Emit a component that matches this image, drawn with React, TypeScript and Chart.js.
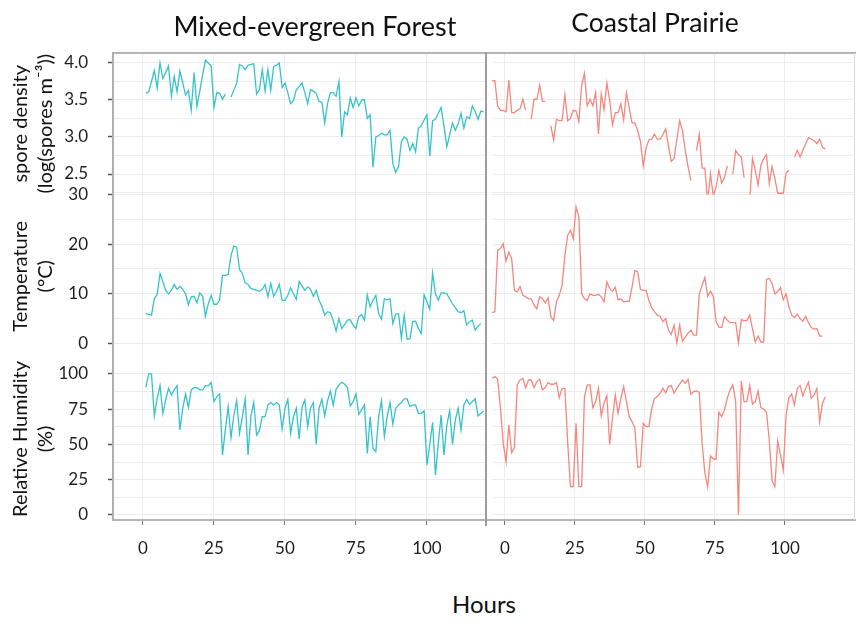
import React, { useEffect, useRef } from 'react';
import { Chart, registerables } from 'chart.js';

Chart.register(...registerables);

// ---------- data ----------
const forestStartHour = 1;
const prairieStartHour = -4.6;

const forestSpore = [
  3.59, 3.61, 3.75, 3.90, 3.66, 4.00, 3.79, 3.87, 3.96, 3.55,
  3.82, 3.61, 3.89, 3.73, 3.57, 3.63, 3.36, 3.87, 3.41, 3.62,
  3.84, 4.04, 4.00, 3.96, 3.40, 3.60, 3.59, 3.51, 3.58, null,
  3.54, 3.63, 3.73, 3.98, 3.96, 3.91, 3.97, 3.98, 3.99, 3.58,
  3.64, 3.91, 3.62, 3.91, 3.63, 3.95, 3.97, 4.00, 3.67, 3.73,
  3.60, 3.45, 3.49, 3.64, 3.68, 3.73, 3.60, 3.45, 3.64, 3.62,
  3.59, 3.48, 3.47, 3.19, 3.45, 3.60, 3.60, 3.55, 3.75, 3.00,
  3.34, 3.30, 3.53, 3.40, 3.53, 3.42, 3.50, 3.50, 3.25, 3.30,
  2.59, 3.00, 3.02, 3.05, 3.03, 3.03, 3.09, 2.64, 2.52, 2.60,
  2.94, 3.00, 2.97, 2.82, 2.91, 2.80, 3.12, 3.15, 3.23, 3.30,
  2.74, 3.22, 3.24, 3.32, 3.40, 3.15, 2.87, 3.03, 3.19, 3.09,
  3.18, 3.32, 3.12, 3.27, 3.25, 3.42, 3.34, 3.24, 3.35, 3.34,
];

const prairieSpore = [
  3.76, 3.76, 3.42, 3.36, 3.36, 3.34, 3.77, 3.33, 3.33, 3.36,
  3.38, 3.51, 3.36, null, 3.24, 3.51, 3.51, 3.70, 3.48, 3.48,
  null, 3.15, 2.96, 3.24, 3.22, 3.22, 3.57, 3.22, 3.25, 3.36,
  3.35, 3.21, 3.70, 3.86, 3.42, 3.51, 3.42, 3.60, 3.04, 3.58,
  3.37, 3.73, 3.50, 3.16, 3.33, 3.33, 3.45, 3.23, 3.60, 3.39,
  3.19, 3.19, 3.09, 2.94, 2.61, 2.85, 2.96, 2.97, 3.04, 2.97,
  2.97, 3.03, 3.11, 2.88, 2.67, 2.71, 2.96, 3.22, 3.09, 2.82,
  2.60, 2.41, null, 2.82, 3.04, 2.58, 2.58, 2.13, 2.50, 2.20,
  2.32, 2.55, 2.38, 2.45, 2.61, null, 2.50, 2.82, 2.76, 2.73,
  2.45, null, 2.13, 2.71, 2.55, 2.35, 2.62, 2.71, 2.76, 2.37,
  2.60, 2.44, 2.24, 2.24, 2.24, 2.51, 2.55, null, 2.73, 2.82,
  2.73, 2.82, 2.91, 2.99, 2.97, 2.95, 2.91, 2.97, 2.86, 2.84,
];

const forestTemp = [
  6.0, 5.85, 5.7, 9.0, 9.9, 14.1, 12.4, 10.7, 10.0, 10.7,
  11.9, 10.9, 11.5, 10.9, 10.0, 7.8, 9.4, 9.5, 8.2, 10.2,
  9.5, 5.5, 8.0, 9.7, 7.9, 7.9, 8.7, 13.7, 13.7, 13.9,
  17.7, 19.6, 19.4, 14.9, 14.1, 12.2, 11.9, 11.1, 10.9, 10.7,
  10.5, 10.9, 11.9, 9.4, 12.1, 9.5, 10.5, 11.9, 8.7, 8.7,
  9.7, 11.2, 10.0, 8.9, 12.5, 11.6, 10.7, 11.4, 10.9, 9.5,
  10.7, 8.7, 7.5, 5.7, 6.4, 6.2, 4.6, 2.5, 5.0, 3.0,
  3.8, 4.7, 4.8, 3.7, 3.0, 5.4, 5.8, 4.7, 9.8, 7.4,
  8.7, 9.7, 6.0, 4.9, 9.0, 8.8, 9.0, 4.0, 5.9, 6.0,
  1.1, 5.7, 0.9, 0.9, 4.4, 4.5, 3.0, 2.0, 9.8, 8.4,
  6.9, 14.2, 10.0, 8.7, 10.2, 10.2, 10.0, 9.0, 8.0, 7.2,
  6.4, 6.2, 6.6, 3.7, 4.4, 4.7, 2.7, 3.5, 4.0, null,
];

const prairieTemp = [
  6.2, 6.4, 18.8, 19.1, 20.1, 16.6, 18.4, 17.1, 10.7, 10.4,
  11.5, 9.7, 9.4, 9.0, 9.0, 7.7, 7.0, 9.4, 9.0, 8.2,
  9.2, 5.4, 4.6, 8.4, 9.7, 11.7, 17.7, 21.8, 22.8, 21.1,
  27.5, 25.5, 10.0, 9.0, 8.7, 10.0, 9.7, 9.7, 9.9, 9.4,
  8.4, 12.4, 11.1, 10.5, 11.3, 8.8, 9.0, 8.4, 8.5, 8.5,
  11.4, 14.7, 14.4, 10.9, 10.7, 10.7, 8.7, 7.2, 6.4, 5.7,
  5.5, 4.4, 5.0, 2.7, 1.8, 3.7, 0.1, 3.7, 0.5, 1.3,
  2.1, 2.7, 1.7, 1.7, 10.0, 11.7, 13.3, 9.5, 10.5, 9.5,
  4.4, 3.3, 3.2, 5.4, 4.7, 4.2, 4.2, 4.2, 0.1, 4.8,
  4.6, 4.6, 5.7, 3.0, 0.3, 1.5, 0.3, 0.3, 12.9, 13.1,
  12.1, 10.0, 10.4, 11.2, 8.8, 10.0, 7.4, 5.7, 5.2, 5.9,
  5.0, 4.5, 5.5, 4.2, 3.2, 2.9, 3.0, 1.5, 1.5, null,
];

const forestHumidity = [
  90.5, 100, 100, 70.2, 82.7, 91.7, 72.1, 81.6, 89.8, 85.1,
  88.7, 91.7, 60.3, 75.7, 85.6, 76.4, 88.7, 90.3, 90.3, 88.7,
  88.7, 91.7, 91.7, 93.9, 80.4, 83.9, 85.8, 42.6, 60.3, 76.8,
  54.8, 70.9, 81.1, 57.9, 69.7, 82.3, 42.6, 69.7, 79.9, 56.7,
  59.8, 69.7, 69.7, 78.0, 79.7, 78.0, 79.7, 78.0, 61.0, 75.7,
  82.0, 57.9, 69.7, 75.7, 53.9, 76.4, 81.6, 62.6, 75.7, 79.7,
  50.1, 75.7, 82.0, 70.2, 80.9, 87.9, 78.0, 89.1, 92.2, 94.1,
  92.7, 90.3, 77.3, 80.4, 85.8, 71.4, 74.5, 78.0, 43.7, 69.7,
  47.3, 44.9, 69.7, 81.1, 55.6, 69.7, 79.7, 64.3, 75.7, 78.0,
  79.7, 82.3, 82.3, 76.8, 78.0, 78.0, 72.1, 72.1, 73.8, 35.5,
  50.1, 65.7, 28.4, 50.8, 70.9, 42.6, 63.8, 74.0, 50.1, 67.4,
  75.7, 60.3, 78.0, 82.0, 78.5, 80.4, 82.3, 70.2, 72.1, 73.8,
];

const prairieHumidity = [
  96.9, 98.1, 96.5, 75.7, 50.8, 37.8, 63.8, 44.2, 47.8, 92.2,
  95.7, 96.9, 90.3, 95.7, 95.7, 90.3, 94.6, 96.2, 88.7, 90.3,
  93.9, 92.7, 92.7, 93.9, 83.2, 89.8, 89.8, 52.0, 20.1, 20.1,
  65.0, 20.1, 20.1, 83.9, 92.2, 92.2, 76.1, 80.4, 89.8, 70.2,
  79.2, 84.6, 50.1, 68.6, 85.1, 72.1, 82.7, 91.0, 80.4, 69.7,
  66.2, 61.5, 33.8, 34.3, 65.0, 62.6, 62.6, 75.2, 82.7, 83.9,
  86.3, 89.8, 86.8, 91.0, 91.7, 86.3, 89.8, 92.7, 95.7, 93.4,
  96.2, 85.6, 87.5, 87.9, 87.0, 51.5, 29.6, 20.1, 41.8, 39.7,
  39.7, 72.8, 69.7, 74.5, 82.7, 88.7, 92.2, 80.4, 0.0, 95.0,
  80.4, 80.4, 91.7, 78.5, 80.4, 87.9, 76.1, 75.2, 72.8, 53.2,
  24.1, 20.1, 52.5, 42.6, 31.9, 70.9, 83.2, 85.6, 78.0, 89.8,
  91.7, 84.4, 89.8, 94.1, 82.7, 85.1, 89.8, 66.2, 79.2, 83.9,
];

// ---------- axes ----------
const xTickValues = [0, 25, 50, 75, 100];
const xTickLabels = ['0', '25', '50', '75', '100'];

const sporeTickValues = [2.5, 3, 3.5, 4];
const sporeTickLabels = ['2.5', '3.0', '3.5', '4.0'];
const sporeGridValues = [2.25, 2.5, 2.75, 3, 3.25, 3.5, 3.75, 4];

const tempTickValues = [0, 10, 20, 30];
const tempTickLabels = ['0', '10', '20', '30'];
const tempGridValues = [0, 5, 10, 15, 20, 25, 30];

const rhTickValues = [0, 25, 50, 75, 100];
const rhTickLabels = ['0', '25', '50', '75', '100'];
const rhGridValues = [0, 12.5, 25, 37.5, 50, 62.5, 75, 87.5, 100];

const columnTitles = ['Mixed-evergreen Forest', 'Coastal Prairie'];
const xTitle = 'Hours';
const sporeTitle = ['spore density', '(log(spores m\u207B\u00B3))'];
const tempTitle = ['Temperature', '(\u00B0C)'];
const rhTitle = ['Relative Humidity', '(%)'];

const FOREST_COLOR = '#35c3cb';
const PRAIRIE_COLOR = '#f7867e';
const FONT = 'Lato, "Open Sans", sans-serif';

const toPoints = (start: number, values: (number | null)[]) =>
  values.map((v, k) => ({ x: start + k, y: v }));

type YOpts = {
  min: number; max: number; weight: number;
  grid: number[]; ticks: number[]; labels: string[];
  title: string[]; show: boolean;
};

function yScale(o: YOpts) {
  return {
    type: 'linear',
    position: 'left',
    stack: 'rows',
    stackWeight: o.weight,
    min: o.min,
    max: o.max,
    afterBuildTicks: (s: any) => { s.ticks = o.grid.map((v) => ({ value: v })); },
    afterFit: (s: any) => { s.width = o.show ? 113 : 0; },
    border: { display: false },
    grid: {
      color: '#ececec',
      lineWidth: 1,
      drawTicks: o.show,
      tickLength: 5,
      tickWidth: 1.5,
      tickColor: (ctx: any) =>
        ctx.tick && o.ticks.includes(ctx.tick.value) ? '#555' : 'rgba(0,0,0,0)',
    },
    ticks: {
      display: o.show,
      autoSkip: false,
      padding: 20,
      color: '#1e1e1e',
      font: { family: FONT, size: 17 },
      callback: (v: number) => {
        const i = o.ticks.indexOf(v);
        return i >= 0 ? o.labels[i] : '';
      },
    },
    title: o.show
      ? {
          display: true,
          text: o.title,
          color: '#111',
          font: { family: FONT, size: 20, lineHeight: 1.25 },
          padding: { top: 8, bottom: 0 },
        }
      : { display: false },
  };
}

function xScale(min: number, max: number) {
  return {
    type: 'linear',
    position: 'bottom',
    min,
    max,
    afterBuildTicks: (s: any) => { s.ticks = xTickValues.map((v) => ({ value: v })); },
    afterFit: (s: any) => { s.height = 50; },
    border: { display: false },
    grid: { color: '#ececec', lineWidth: 1, tickLength: 5, tickColor: '#777' },
    ticks: {
      autoSkip: false,
      maxRotation: 0,
      padding: 13,
      color: '#1e1e1e',
      font: { family: FONT, size: 17 },
      callback: (v: number) => {
        const i = xTickValues.indexOf(v);
        return i >= 0 ? xTickLabels[i] : '';
      },
    },
  };
}

function framePlugin(side: 'left' | 'right') {
  return {
    id: 'frame_' + side,
    afterDraw(chart: any) {
      const { ctx, chartArea: a, width } = chart;
      ctx.save();
      const seg = (x1: number, y1: number, x2: number, y2: number, c: string, w: number) => {
        ctx.beginPath();
        ctx.strokeStyle = c;
        ctx.lineWidth = w;
        ctx.moveTo(x1, y1);
        ctx.lineTo(x2, y2);
        ctx.stroke();
      };
      if (side === 'left') {
        seg(a.left, a.top, width, a.top, '#b5b5b5', 2);
        seg(a.left, a.bottom, width, a.bottom, '#b5b5b5', 2);
        seg(a.left, a.top - 1, a.left, a.bottom + 1, '#b0b0b0', 2);
        seg(a.right, a.top - 1, a.right, a.bottom + 6, '#9c9c9c', 2);
      } else {
        seg(0, a.top, width, a.top, '#b5b5b5', 2);
        seg(0, a.bottom, width, a.bottom, '#b5b5b5', 2);
        seg(width - 1.5, a.top, width - 1.5, a.bottom, '#dadada', 1);
      }
      ctx.restore();
    },
  };
}

function buildConfig(
  side: 'left' | 'right',
  start: number,
  spore: (number | null)[],
  temp: (number | null)[],
  rh: (number | null)[],
  color: string,
  xMin: number,
  xMax: number,
) {
  const show = side === 'left';
  const ds = (data: (number | null)[], yAxisID: string) => ({
    data: toPoints(start, data),
    yAxisID,
    xAxisID: 'x',
    borderColor: color,
    backgroundColor: color,
    borderWidth: 1.3,
    pointRadius: 0,
    tension: 0,
    spanGaps: false,
    fill: false,
  });
  return {
    type: 'line',
    data: {
      datasets: [ds(spore, 'ySpore'), ds(temp, 'yTemp'), ds(rh, 'yRH')],
    },
    options: {
      responsive: false,
      animation: false,
      devicePixelRatio: 1,
      layout: { padding: { top: 53, right: show ? 1 : 3, bottom: 0, left: 0 } },
      plugins: { legend: { display: false }, tooltip: { enabled: false }, title: { display: false } },
      scales: {
        x: xScale(xMin, xMax),
        yRH: yScale({ min: -3.55, max: 111.3, weight: 162, grid: rhGridValues, ticks: rhTickValues, labels: rhTickLabels, title: rhTitle, show }),
        yTemp: yScale({ min: -2.92, max: 30, weight: 163.5, grid: tempGridValues, ticks: tempTickValues, labels: tempTickLabels, title: tempTitle, show }),
        ySpore: yScale({ min: 2.223, max: 4.135, weight: 141.5, grid: sporeGridValues, ticks: sporeTickValues, labels: sporeTickLabels, title: sporeTitle, show }),
      },
    },
    plugins: [framePlugin(side)],
  };
}

function Panel(props: { side: 'left' | 'right'; left: number; width: number }) {
  const ref = useRef<HTMLCanvasElement | null>(null);
  useEffect(() => {
    if (!ref.current) return;
    const cfg =
      props.side === 'left'
        ? buildConfig('left', forestStartHour, forestSpore, forestTemp, forestHumidity, FOREST_COLOR, -10.56, 120.8)
        : buildConfig('right', prairieStartHour, prairieSpore, prairieTemp, prairieHumidity, PRAIRIE_COLOR, -4.58, 124.3);
    const chart = new Chart(ref.current, cfg as any);
    return () => chart.destroy();
  }, [props.side]);
  return (
    <canvas
      ref={ref}
      width={props.width}
      height={570}
      style={{ position: 'absolute', left: props.left, top: 0, width: props.width, height: 570 }}
    />
  );
}

const textStyle = (x: number, y: number, size: number): React.CSSProperties => ({
  position: 'absolute',
  left: x,
  top: y,
  transform: 'translate(-50%, -50%)',
  fontFamily: FONT,
  fontSize: size,
  color: '#111',
  whiteSpace: 'nowrap',
  lineHeight: 1,
});

export default function App() {
  return (
    <div style={{ position: 'absolute', left: 0, top: 0, width: 856, height: 622, background: '#fff', overflow: 'hidden' }}>
      <Panel side="left" left={0} width={487} />
      <Panel side="right" left={487} width={369} />
      <div style={textStyle(315, 25, 27)}>{columnTitles[0]}</div>
      <div style={textStyle(655, 22, 26.5)}>{columnTitles[1]}</div>
      <div style={textStyle(484, 604, 24)}>{xTitle}</div>
    </div>
  );
}
